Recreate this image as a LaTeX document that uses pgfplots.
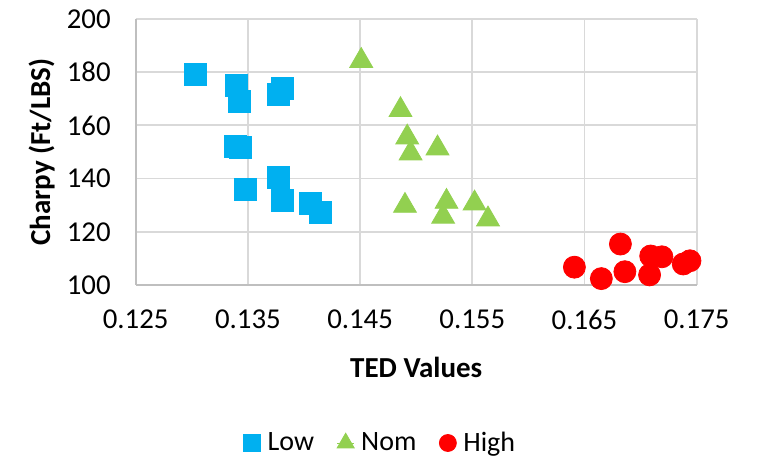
\documentclass[border=0pt]{standalone}
\usepackage{pgfplots}
\pgfplotsset{compat=1.18}
\usepackage{fontspec}
\setmainfont{Carlito}
\definecolor{cblue}{HTML}{00B0F0}
\definecolor{cgreen}{HTML}{92D050}
\definecolor{cred}{HTML}{FF0000}
\definecolor{cgrid}{HTML}{D9D9D9}
\definecolor{caxis}{HTML}{BFBFBF}
\begin{document}
\begin{tikzpicture}
\begin{axis}[
  at={(0,0)}, anchor=south west,
  scale only axis, width=280.5pt, height=133pt,
  xmin=0.125, xmax=0.175, ymin=100, ymax=200,
  xtick={0.125,0.135,0.145,0.155,0.165,0.175},
  xticklabels={0.125,0.135,0.145,0.155,0.165,0.175},
  ytick={100,120,...,200},
  grid=major, major grid style={cgrid, line width=0.9pt},
  axis line style={caxis, line width=1pt},
  axis x line*=bottom, axis y line*=left,
  tick style={draw=none},
  /pgf/number format/assume math mode=true,
  ticklabel style={font=\fontsize{14.4}{16}\selectfont},
  xticklabel style={yshift=-9pt},
  yticklabel style={xshift=-9pt},
  xlabel={\textbf{TED Values}},
  ylabel={\textbf{Charpy (Ft/LBS)}},
  label style={font=\fontsize{14.5}{16}\selectfont},
  xlabel style={at={(axis description cs:0.5,0)}, anchor=center, yshift=-41pt},
  ylabel style={at={(axis description cs:0,0.5)}, anchor=center, rotate=0, xshift=0pt, yshift=47pt},
  legend columns=3,
  legend style={at={(axis description cs:0.44,0)}, anchor=center, yshift=-79pt, draw=none,
    font=\fontsize{14}{16}\selectfont, inner sep=1pt,
    nodes={inner xsep=3.3pt},
    /tikz/every even column/.append style={column sep=8pt}},
  legend cell align=left,
  legend image code/.code={\path (0pt,0pt) -- (8.5pt,0pt); \draw[#1] plot coordinates {(4.25pt,0pt)};},
  clip=false,
]
\addplot[only marks, mark=square*, mark size=5.5pt, color=cblue, mark options={fill=cblue, draw=cblue},
  legend image post style={mark size=4.25pt}] coordinates {
(0.1303,179.3) (0.1340,175.2) (0.1342,168.9) (0.1381,174.0) (0.1377,171.7)
(0.1339,152.0) (0.1343,151.6) (0.1348,136.0) (0.1377,140.3) (0.1381,131.7)
(0.1406,130.6) (0.1415,127.4)
};
\addlegendentry{Low}
\addplot[only marks, mark=triangle*, mark size=6.6pt, color=cgreen, mark options={fill=cgreen, draw=cgreen},
  legend image post style={mark size=4.9pt}] coordinates {
(0.1451,184.3) (0.1486,165.8) (0.1492,155.5) (0.1495,149.5) (0.1519,151.4)
(0.1490,129.8) (0.1527,131.3) (0.1524,125.7) (0.1552,130.7) (0.1564,124.7)
};
\addlegendentry{Nom}
\addplot[only marks, mark=*, mark size=5.5pt, color=cred, mark options={fill=cred, draw=cred},
  legend image post style={mark size=4.25pt}] coordinates {
(0.1641,106.7) (0.1665,102.4) (0.1682,115.4) (0.1686,105.0) (0.1708,103.8)
(0.1709,110.9) (0.1719,110.6) (0.1738,107.9) (0.1744,109.1)
};
\addlegendentry{High}
\end{axis}
\pgfresetboundingbox
\useasboundingbox (-67.85pt,-86.5pt) rectangle (311.15pt,142.5pt);
\end{tikzpicture}
\end{document}
